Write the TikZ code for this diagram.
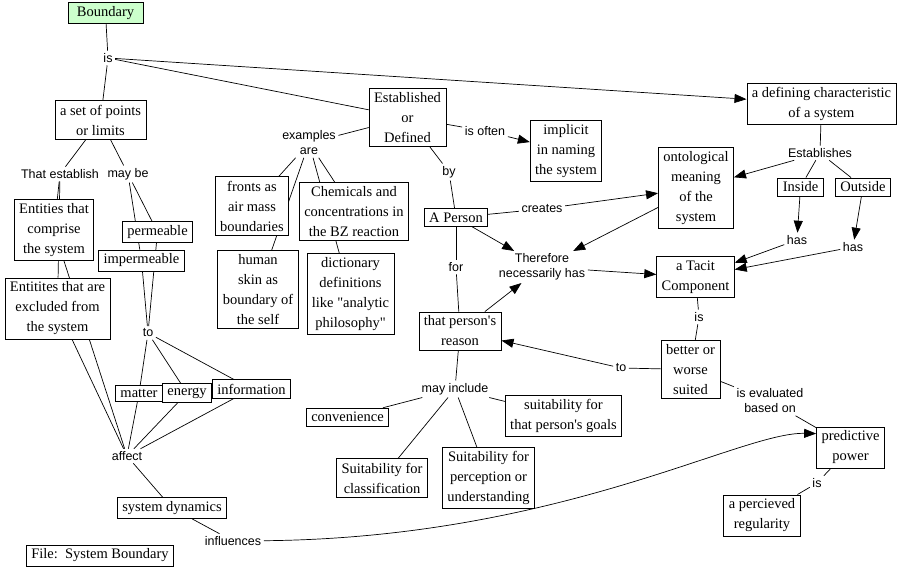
\documentclass[tikz,border=0pt]{standalone}
\usepackage{fontspec}
\setmainfont{Liberation Serif}
\newfontfamily\phrasefont{Liberation Sans}
\usetikzlibrary{arrows.meta}
\pgfdeclarelayer{background}
\pgfsetlayers{background,main}
\definecolor{rootgreen}{RGB}{204,255,204}
\tikzstyle{concept} = [rectangle, draw, fill=white, line width=0.7pt,
    align=center, inner xsep=5pt, inner ysep=4pt,
    font=\fontsize{14.5}{20}\selectfont]
\tikzstyle{phrase} = [align=center, inner sep=2.5pt,
    font=\phrasefont\fontsize{12.5}{15}\selectfont]
\tikzstyle{line} = [draw, line width=0.7pt]
\tikzstyle{arrow} = [draw, line width=0.7pt, -{Triangle[length=12pt,width=9pt]}]

\begin{document}
\begin{tikzpicture}[x=1pt, y=-1pt]
    \useasboundingbox (0,0) rectangle (905,570);
    % concepts
    \node [concept, fill=rootgreen, minimum width=75pt] (boundary) at (105.5,13) {Boundary};
    \node [concept] (points) at (100.5,120) {a set of points\\or limits};
    \node [concept] (comprise) at (54,230) {Entities that\\comprise\\the system};
    \node [concept] (excluded) at (57.5,308.5) {Entitites that are\\excluded from\\the system};
    \node [concept] (permeable) at (157.5,232) {permeable};
    \node [concept] (impermeable) at (141.5,260.5) {impermeable};
    \node [concept] (matter) at (139,393.5) {matter};
    \node [concept] (energy) at (187,393) {energy};
    \node [concept] (information) at (251.5,389) {information};
    \node [concept] (dynamics) at (172,508) {system dynamics};
    \node [concept] (filebox) at (100,555.5) {File:\ \ System Boundary};
    \node [concept] (established) at (407.5,117.5) {Established\\or\\Defined};
    \node [concept] (fronts) at (252,206) {fronts as\\air mass\\boundaries};
    \node [concept] (chemicals) at (354,211.5) {Chemicals and\\concentrations in\\the BZ reaction};
    \node [concept] (skin) at (258,289.5) {human\\skin as\\boundary of\\the self};
    \node [concept] (dictionary) at (350.5,294) {dictionary\\definitions\\like \textquotedbl analytic\\philosophy\textquotedbl};
    \node [concept] (implicit) at (566,151) {implicit\\in naming\\the system};
    \node [concept] (defining) at (821.5,104) {a defining characteristic\\of a system};
    \node [concept] (ontological) at (696,188) {ontological\\meaning\\of the\\system};
    \node [concept] (inside) at (800.5,187) {Inside};
    \node [concept] (outside) at (863,187) {Outside};
    \node [concept] (person) at (456,217.5) {A Person};
    \node [concept] (tacit) at (695.5,277) {a Tacit\\Component};
    \node [concept] (reason) at (460,331) {that person\textquotesingle s\\reason};
    \node [concept] (better) at (690.5,369.5) {better or\\worse\\suited};
    \node [concept] (goals) at (563.5,416) {suitability for\\that person\textquotesingle s goals};
    \node [concept] (perception) at (488.5,478) {Suitability for\\perception or\\understanding};
    \node [concept] (classification) at (382,478) {Suitability for\\classification};
    \node [concept] (convenience) at (347.5,417) {convenience};
    \node [concept] (predictive) at (850.5,447.5) {predictive\\power};
    \node [concept] (regularity) at (762,515.5) {a percieved\\regularity};
    % linking phrases
    \node [phrase] (is1) at (108,58) {is};
    \node [phrase] (establish) at (60,174) {That establish};
    \node [phrase] (maybe) at (128,174) {may be};
    \node [phrase] (to1) at (148,333) {to};
    \node [phrase] (affect) at (127,456) {affect};
    \node [phrase] (influences) at (233,541) {influences};
    \node [phrase] (examples) at (309,143) {examples\\are};
    \node [phrase] (often) at (485,131) {is often};
    \node [phrase] (by) at (449,172) {by};
    \node [phrase] (creates) at (542,209) {creates};
    \node [phrase] (therefore) at (542,267) {Therefore\\necessarily has};
    \node [phrase] (for) at (456,267) {for};
    \node [phrase] (establishes) at (820,153) {Establishes};
    \node [phrase] (has1) at (797,240) {has};
    \node [phrase] (has2) at (853,247) {has};
    \node [phrase] (is2) at (699,317) {is};
    \node [phrase] (to2) at (621,368) {to};
    \node [phrase] (include) at (455,389) {may include};
    \node [phrase] (evaluated) at (770,401) {is evaluated\\based on};
    \node [phrase] (is3) at (817,483) {is};
    % connectors
    \begin{pgfonlayer}{background}
    \path [line] (boundary) edge (is1);
    \path [line] (is1) edge (points);
    \path [line] (is1) edge (established);
    \path [arrow] (is1) edge (defining);
    \path [line] (points) edge (establish);
    \path [line] (points) edge (maybe);
    \path [line] (establish) edge (comprise);
    \path [line] (establish) edge (excluded);
    \path [line] (maybe) edge (permeable);
    \path [line] (maybe) edge (impermeable);
    \path [line] (permeable) edge (to1);
    \path [line] (impermeable) edge (to1);
    \path [line] (to1) edge (matter);
    \path [line] (to1) edge (energy);
    \path [line] (to1) edge (information);
    \path [line] (matter) edge (affect);
    \path [line] (energy) edge (affect);
    \path [line] (information) edge (affect);
    \path [line] (comprise) edge (affect);
    \path [line] (excluded) edge (affect);
    \path [line] (affect) edge (dynamics);
    \path [line] (dynamics) edge (influences);
    \path [arrow] (influences) .. controls (560,538) and (740,432) .. ([yshift=-7pt]predictive.north west);
    \path [line] (established) edge (examples);
    \path [line] (examples) edge (fronts);
    \path [line] (examples) edge (skin);
    \path [line] (examples) edge (chemicals);
    \path [line] (examples) edge (dictionary);
    \path [line] (established) edge (often);
    \path [arrow] (often) edge (implicit);
    \path [line] (established) edge (by);
    \path [line] (by) edge (person);
    \path [line] (person) edge (creates);
    \path [arrow] (creates) edge (ontological);
    \path [arrow] (person) edge (therefore);
    \path [arrow] (ontological) edge (therefore);
    \path [arrow] (therefore) edge (tacit);
    \path [line] (person) edge (for);
    \path [line] (for) edge (reason);
    \path [arrow] (reason) edge (therefore);
    \path [line] (defining) edge (establishes);
    \path [arrow] (establishes) edge (ontological);
    \path [line] (establishes) edge (inside);
    \path [line] (establishes) edge (outside);
    \path [arrow] (inside) edge (has1);
    \path [arrow] (outside) edge (has2);
    \path [arrow] (has1) edge (tacit);
    \path [arrow] (has2) edge (tacit);
    \path [line] (tacit) edge (is2);
    \path [line] (is2) edge (better);
    \path [line] (better) edge (to2);
    \path [arrow] (to2) edge (reason);
    \path [line] (better) edge (evaluated);
    \path [line] (evaluated) edge (predictive);
    \path [line] (predictive) edge (is3);
    \path [line] (is3) edge (regularity);
    \path [line] (reason) edge (include);
    \path [line] (include) edge (convenience);
    \path [line] (include) edge (classification);
    \path [line] (include) edge (perception);
    \path [line] (include) edge (goals);
    \end{pgfonlayer}
\end{tikzpicture}
\end{document}
